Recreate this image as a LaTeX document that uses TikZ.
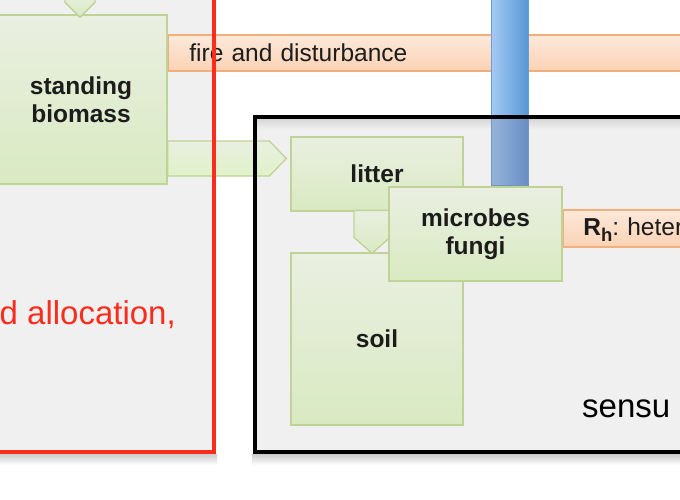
\documentclass[tikz,border=0pt]{standalone}
\usepackage{fontspec}
\setmainfont{Liberation Sans}
\usetikzlibrary{calc}
\frenchspacing
\definecolor{boxgray}{RGB}{240,240,240}
\definecolor{grtop}{RGB}{234,239,225}
\definecolor{grbot}{RGB}{217,234,194}
\definecolor{grline}{RGB}{192,211,150}
\definecolor{ortop}{RGB}{253,233,218}
\definecolor{orbot}{RGB}{250,210,180}
\definecolor{orline}{RGB}{244,174,122}
\definecolor{redline}{RGB}{250,44,30}
\definecolor{txt}{RGB}{28,28,28}
\definecolor{bluel}{RGB}{165,202,245}
\definecolor{bluer}{RGB}{88,152,215}
\definecolor{bluelm}{RGB}{150,180,218}
\definecolor{bluerm}{RGB}{104,142,196}
\definecolor{blueline}{RGB}{110,155,210}
\newcommand\lblfont{\fontsize{24.5}{28}\selectfont\bfseries}
\newcommand\barfont{\fontsize{24.5}{28}\selectfont}
\newcommand\bigfont{\fontsize{33}{38}\selectfont}
\newcommand\subh{\raisebox{-6pt}{\fontsize{18.5}{20}\selectfont\bfseries h}}
\tikzset{
  gbox/.style={draw=grline, line width=1.3pt, top color=grtop, bottom color=grbot,
    inner sep=0pt, align=center, text=txt, font=\lblfont},
  garrow/.style={draw=grline, line width=1.3pt, top color=grtop, bottom color=grbot},
  obar/.style={draw=orline, line width=1.5pt, top color=ortop, bottom color=orbot,
    inner ysep=0pt, inner xsep=21pt, text=txt, font=\barfont, align=left,
    anchor=north west, text depth=0pt},
  framebox/.style={line width=3.5pt},
}
\begin{document}
\begin{tikzpicture}[x=1pt,y=-1pt]
\path[use as bounding box, clip] (0,0) rectangle (680,500);
\fill[white] (0,0) rectangle (680,500);
% region fills
\fill[boxgray] (-10,-10) rectangle (214,452);
\fill[boxgray] (255,117) rectangle (700,452);
\shade[top color=black!16, bottom color=boxgray] (257,119) rectangle (700,129);
% standing biomass
\node[gbox, minimum width=172pt, minimum height=169pt] (sb) at (81,99.5) {standing\\biomass};
\coordinate (tip1) at ($(sb.north)+(-1,3)$);
\path[garrow] ($(tip1)+(-15,-25)$) -- ($(tip1)+(-15,-15)$) -- (tip1) -- ($(tip1)+(15,-15)$) -- ($(tip1)+(15,-25)$);
% fire bar
\node[obar, minimum width=533pt, minimum height=36pt, text width=491pt, text height=16pt]
  (fire) at ($(sb.north east)+(0,20)$) {fire and disturbance};
% blue bar
\shade[left color=bluel, right color=bluer, draw=blueline, line width=0.8pt] (491,-5) rectangle (528,117);
\shade[left color=bluelm, right color=bluerm, draw=blueline!80!gray, line width=0.8pt] (491,117) rectangle (528,185);
% litter
\node[gbox, minimum width=172pt, minimum height=74pt] (litter) at (377,174) {litter};
\coordinate (tip2) at ($(litter.west)+(-4,-15.5)$);
\path[garrow, top color=grtop, bottom color={rgb,255:red,224;green,242;blue,200}]
  ($(sb.east|-tip2)+(0,-17.5)$) -- ($(tip2)+(-17,-17.5)$) -- (tip2) -- ($(tip2)+(-17,17.5)$) -- ($(sb.east|-tip2)+(0,17.5)$) -- cycle;
% soil
\node[gbox, minimum width=172pt, minimum height=172pt] (soil) at (377,339) {soil};
\coordinate (tip3) at ($(soil.north)+(-5,1)$);
\path[garrow] ($(tip3)+(-18,-43)$) -- ($(tip3)+(-18,-16)$) -- (tip3) -- ($(tip3)+(18,-16)$) -- ($(tip3)+(18,-43)$) -- cycle;
% microbes
\node[gbox, minimum width=173pt, minimum height=94pt] (microbes) at (475.5,234) {microbes\\fungi};
\node[obar, minimum width=150pt, minimum height=37pt, text width=130pt, text height=15pt, inner xsep=20pt]
  (rh) at ($(microbes.east)+(0,-25)$) {\textbf{R}\subh: heter};
% frames
\draw[framebox, redline] (-10,-10) rectangle (214,452);
\draw[framebox, black] (255,117) rectangle (700,452);
\shade[top color=black!20, bottom color=white] (-5,454) rectangle (217,465);
\shade[top color=black!20, bottom color=white] (252,454) rectangle (690,465);
% texts
\node[anchor=base east, inner sep=0pt, text=redline, font=\bigfont] (alloc) at (176,324) {d allocation,};
\node[anchor=base west, inner sep=0pt, text=black, font=\bigfont] (sensu) at (582,417) {sensu};
\end{tikzpicture}
\end{document}
